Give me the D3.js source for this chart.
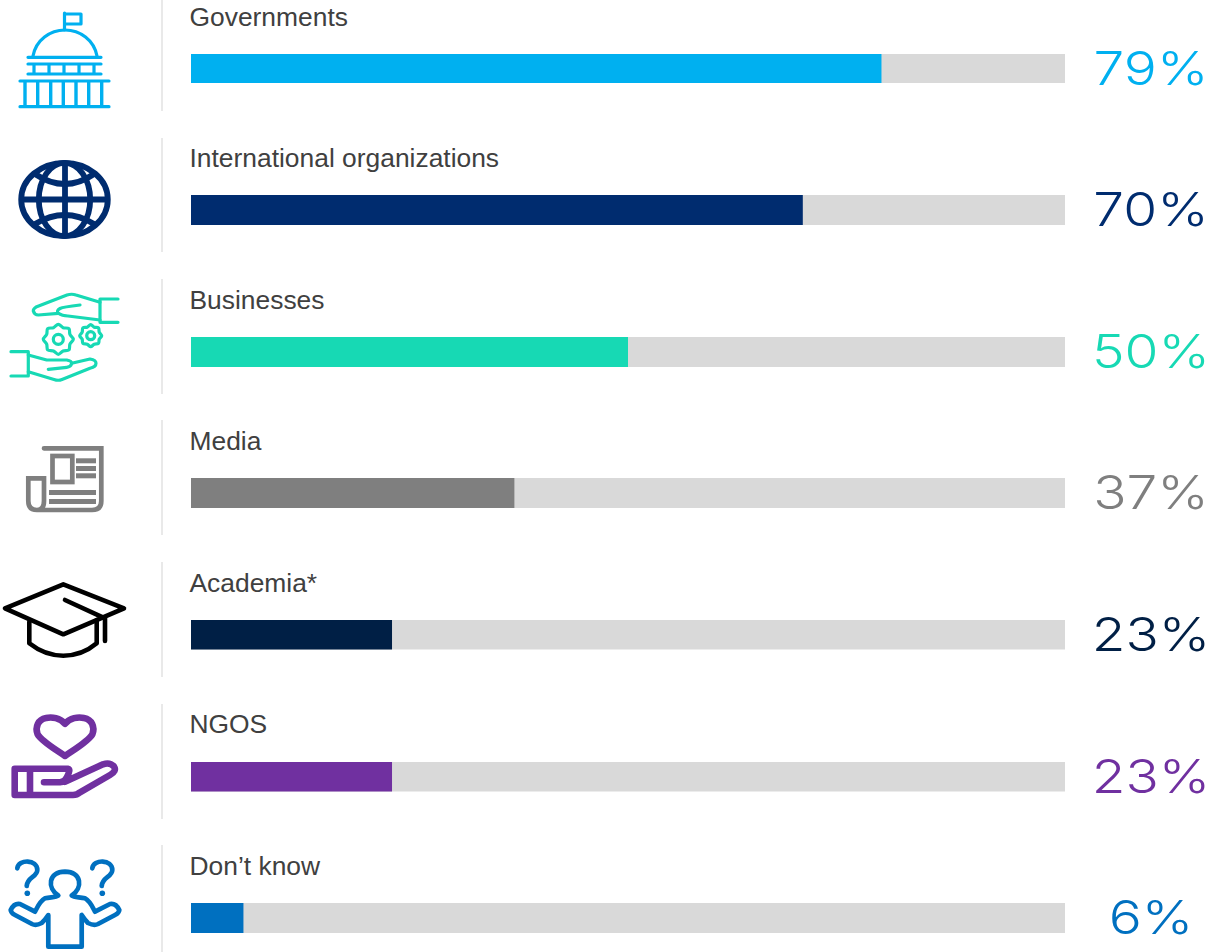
<!DOCTYPE html>
<html>
<head>
<meta charset="utf-8">
<script src="https://cdn.jsdelivr.net/npm/d3@7"></script>
<style>
html,body{margin:0;padding:0;background:#fff;overflow:hidden}
svg{display:block}
.label{font-family:"Liberation Sans",Arial,sans-serif;font-size:26.4px;fill:#404040}
.value{font-family:"Inter",sans-serif;font-weight:300;font-size:47px}
</style>
</head>
<body>
<svg id="chart" width="1230" height="952"></svg>
<script>
// Share of respondents per actor group
const categories = ["Governments","International organizations","Businesses","Media","Academia*","NGOS","Don\u2019t know"];
const values = [79,70,50,37,23,23,6];
const colors = ["#00b0f0","#002c6f","#17d9b4","#7f7f7f","#001f45","#7030a0","#0070c0"];
const iconNames = ["capitol","globe","hands","paper","cap","heart","person"];
const valueLabels = ["79%","70%","50%","37%","23%","23%","6%"];

const svg = d3.select("#chart");
const x = d3.scaleLinear().domain([0,100]).range([191,1065]);

// Gear outline: a scalloped closed radial curve
function gear(s, cx, cy, r, hub){
  const teeth = 8, pts = [];
  for(let i=0;i<teeth*2;i++) pts.push([i*Math.PI/teeth, i%2 ? r*0.84 : r]);
  s.append("path")
    .attr("d", d3.lineRadial().curve(d3.curveCatmullRomClosed)(pts))
    .attr("transform",`translate(${cx},${cy})`);
  s.append("circle").attr("cx",cx).attr("cy",cy).attr("r",hub);
}

function strokeGroup(g, c, w, cap){
  return g.append("g").attr("fill","none").attr("stroke",c).attr("stroke-width",w)
    .attr("stroke-linecap",cap||"round").attr("stroke-linejoin","round");
}

// Each icon is drawn in a local frame whose origin is the top of its row
const icons = {
  capitol(g,c){
    const s = strokeGroup(g,c,3.2);
    s.append("path").attr("d","M64.5,30V13L65,14H81V24H64.5");
    s.append("path").attr("d","M33,56C36,40 50,30 65,30C80,30 94,40 97,56");
    s.append("path").attr("d","M28,57.3H101M28,64H101M28,74H101M20,81H109M20,106.7H109");
    s.append("path").attr("d","M34,65V73M49,65V73M64,65V73M79,65V73M94,65V73");
    s.append("path").attr("d","M25,81V107M37.7,81V107M50.7,81V107M63.3,81V107M76,81V107M88.7,81V107M101.7,81V107").attr("stroke-linecap","butt").attr("stroke-width",3.4);
  },
  globe(g,c){
    const s = strokeGroup(g,c,5.8,"butt");
    s.append("ellipse").attr("cx",64.5).attr("cy",58.5).attr("rx",43.3).attr("ry",36.7);
    s.append("ellipse").attr("cx",64.5).attr("cy",58.5).attr("rx",25.7).attr("ry",36.7);
    s.append("path").attr("d","M65,22V95M21,58.5H108");
    s.append("path").attr("d","M35,33Q65,53 94,33M35,83Q65,65 94,83");
  },
  hands(g,c){
    const s = strokeGroup(g,c,3.2);
    s.append("path").attr("d","M118,17H100V40.3H118");
    s.append("path").attr("d","M100,20.3L76,13Q71.7,11.5 67,13L36.7,24.7Q33,27 33.3,29Q34.5,33 38.3,33L58.3,31.3Q56,28.7 60,26.5Q63,25 80,23");
    s.append("path").attr("d","M58.3,31.3Q62,34 68,34L100,38");
    s.append("path").attr("d","M11,69.7H28.3V94H11");
    s.append("path").attr("d","M28.3,73L46.7,78H66.7Q71.7,79 71.7,81.3Q71,85 66.7,85.3L48.3,87.3");
    s.append("path").attr("d","M71.7,81.3L90,77Q96,78 96,81.3Q96,85 90,86.3L62,97.5Q58.3,99 54,97.5L28.3,89.7");
    gear(s,58.3,57.3,15,5);
    gear(s,90.7,53.7,11,4);
  },
  paper(g,c){
    const s = strokeGroup(g,c,4.7).attr("stroke-linejoin","miter");
    s.append("path").attr("d","M44,25.3H101.3V78Q101.3,87 92,87H37Q28.3,87 28.3,78V55.3H44V78Q44,87 37,87");
    s.append("rect").attr("x",52.5).attr("y",33).attr("width",19.8).attr("height",26);
    g.append("g").attr("fill",c).selectAll("rect")
      .data([[76,35.3,20],[76,43,20],[76,50.3,20],[49,67,47],[49,76,47]])
      .join("rect").attr("x",d=>d[0]).attr("y",d=>d[1]).attr("width",d=>d[2]).attr("height",5);
  },
  cap(g){
    const s = strokeGroup(g,"#000",4.6);
    s.append("path").attr("d","M5,43.3L63.3,19.3L124,43.3L63.3,69.3Z");
    s.append("path").attr("d","M29.3,56.7V78.3Q45,90.7 63.3,90.7Q82,90.7 96.7,78.3V55");
    s.append("path").attr("d","M65,35L105,53.3V76");
  },
  heart(g,c){
    const s = strokeGroup(g,c,6.6);
    s.append("path").attr("d","M65,16.7C60,11 52,9.5 46,11C38,12.5 35,20 37.5,27C41,34 55,42 65,49C75,42 89,34 92.5,27C95,20 92,12.5 84,11C78,9.5 70,11 65,16.7Z");
    s.append("path").attr("d","M30,61.7H68Q71,62 67,70Q65,75 60,75.3H44M65,74.7L103,57.3Q110,55 114,59.5Q117,64 110,68L80,85.3Q77,88 73,88H14.7V61.7H30V88");
  },
  person(g,c){
    const s = strokeGroup(g,c,4.7);
    s.append("path").attr("d","M58.3,47.5C47,40 48,24 65,23.7C82,24 83,40 71.7,47.5C74,49.5 79,49 85,50.3C90,53 92,58 95,63.7L110,56Q116,55 119.3,62Q119,65 115,67L98,76Q94,78 88,75Q85,72 81.7,67V98.7H48.3V67Q45,72 41.7,75Q36,78 32,76L15,67Q11,65 10.7,62Q14,55 20,56L35,63.7C38,58 40,53 45,50.3C51,49 56,49.5 58.3,47.5Z");
    s.append("path").attr("d","M17.3,20.3C18.5,11 37.3,11 37.3,22C37.3,29 27.3,29 26.7,38");
    s.append("path").attr("d","M92.3,20.3C93.5,11 112.3,11 112.3,22C112.3,29 102.3,29 101.7,38");
    g.selectAll("circle.dot").data([27.3,102.3]).join("circle").attr("class","dot")
      .attr("cx",d=>d).attr("cy",45.3).attr("r",2.8).attr("fill",c);
  }
};

const iconOffsets = [0,141,282,423,565,707,848];
const barTop = [54,195,337,478,620,762,903];
const barH = [29,30,30,30,29.5,29.5,30];
const labelY = [26,167,309,450,592,733,875];
const ruleSpans = [[0,111],[138,252],[279,394],[420,535],[562,677],[704,819],[845,952]];

const rows = svg.selectAll("g.row").data(categories).join("g").attr("class","row");

// Vertical rule between icon and bar
rows.append("line")
  .attr("x1",162).attr("x2",162)
  .attr("y1",(d,i)=>ruleSpans[i][0]).attr("y2",(d,i)=>ruleSpans[i][1])
  .attr("stroke","#e9e9e9").attr("stroke-width",2);

// Category label
rows.append("text").attr("class","label")
  .attr("x",189.5).attr("y",(d,i)=>labelY[i])
  .text(d=>d);

// Track and filled bar
rows.append("rect")
  .attr("x",x(0)).attr("y",(d,i)=>barTop[i])
  .attr("width",x(100)-x(0)).attr("height",(d,i)=>barH[i])
  .attr("fill","#d9d9d9");
rows.append("rect")
  .attr("x",x(0)).attr("y",(d,i)=>barTop[i])
  .attr("width",(d,i)=>x(values[i])-x(0)).attr("height",(d,i)=>barH[i])
  .attr("fill",(d,i)=>colors[i]);

// Percentage, stretched horizontally for its wide light look
rows.append("text").attr("class","value")
  .attr("text-anchor","middle")
  .attr("transform",(d,i)=>`translate(1151,${barTop[i]+31}) scale(1.17,1)`)
  .attr("fill",(d,i)=>colors[i])
  .text((d,i)=>valueLabels[i]);

// Icons
rows.append("g").attr("class","icon")
  .attr("transform",(d,i)=>`translate(0,${iconOffsets[i]})`)
  .each(function(d,i){ icons[iconNames[i]](d3.select(this),colors[i]); });
</script>
</body>
</html>
